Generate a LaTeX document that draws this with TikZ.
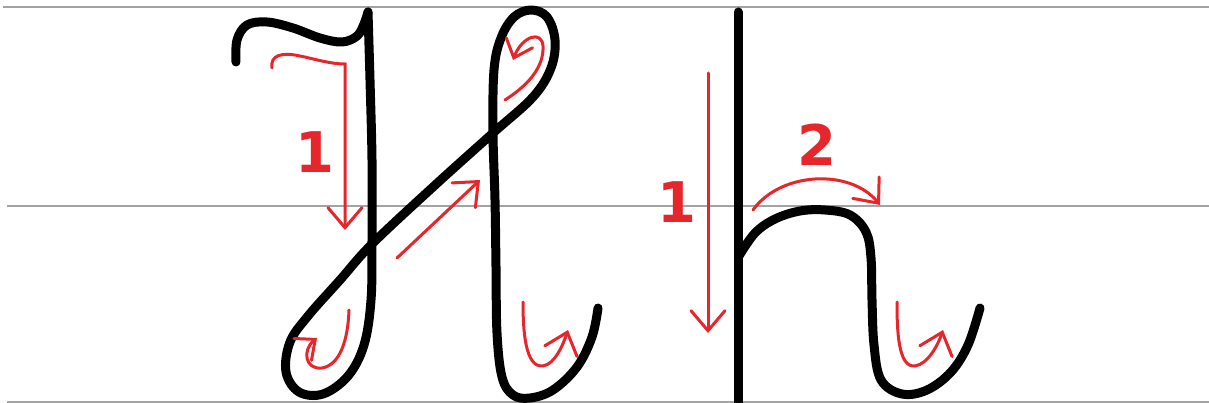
\documentclass[tikz,border=0pt]{standalone}
\usepackage{fontspec}
\usepackage{tikz}
\usetikzlibrary{arrows.meta}
\newfontfamily\digitfont{DejaVu Sans}
\definecolor{guideGray}{HTML}{A3A3A3}
\definecolor{inkBlack}{HTML}{000000}
\definecolor{strokeRed}{HTML}{E5262B}

\begin{document}
\begin{tikzpicture}[x=1pt,y=-1pt,
  guide/.style={draw=guideGray,line width=2pt},
  letter/.style={draw=inkBlack,line width=9pt,line cap=round,line join=round},
  hint/.style={draw=strokeRed,line width=3pt,line cap=round,line join=miter,
    -{Straight Barb[length=20pt,width=34pt,line cap=round]}},
  smallhint/.style={hint,-{Straight Barb[length=16pt,width=28pt,line cap=round]}},
  num/.style={text=strokeRed,inner sep=0pt,font=\digitfont\bfseries\fontsize{56}{60}\selectfont}
]
  \useasboundingbox (0,0) rectangle (1209,403);

  % guide lines
  \draw[guide] (3,7) -- (1209,7);
  \draw[guide] (7,206) -- (1209,206);
  \draw[guide] (7,402) -- (1209,402);

  % capital H
  \draw[letter] plot[smooth,tension=0.6] coordinates {(236,62) (237,40) (247,25) (267,22)
    (293,28) (320,38) (342,42) (357,36) (364,24) (368,12)};
  \draw[letter] plot[smooth,tension=0.6] coordinates {(368,12) (370,80) (372,160) (372,240)
    (371,300) (364,345) (348,376) (323,394) (299,392) (286,372) (290,342) (308,316)
    (340,280) (372,244) (433,187) (493,133) (533,97) (551,68) (555,40) (547,17) (531,10)
    (514,17) (501,38) (494,70) (493,133) (495,200) (496,267) (497,333) (502,377) (513,395)
    (530,398) (553,390) (577,367) (592,337) (598,308)};

  % small h
  \draw[letter] (738,12) -- (738,402);
  \draw[letter] plot[smooth,tension=0.6] coordinates {(739,256) (755,233) (775,219)
    (800,211) (825,210) (850,215) (866,232) (871,258) (872,300) (874,345) (881,380)
    (902,394) (927,390) (951,372) (968,345) (980,308)};

  % stroke hints for H
  \draw[hint] (272,68) .. controls (270,55) and (282,52) .. (300,56)
    .. controls (315,59) and (330,64) .. (345,64) -- (345,230);
  \node[num] (numHone) at (315,152) {1};
  \draw[hint] (397,258) -- (480,180);
  \draw[smallhint] (505,100) .. controls (530,84) and (544,66) .. (543,46)
    .. controls (542,30) and (522,36) .. (513,60);
  \draw[smallhint] (349,310) .. controls (348,340) and (340,365) .. (322,368)
    .. controls (305,370) and (302,350) .. (317,338);
  \draw[hint] (523,302) .. controls (523,330) and (525,368) .. (543,366)
    .. controls (555,364) and (563,345) .. (568,330);

  % stroke hints for h
  \draw[hint] (708,73) -- (708,333);
  \node[num] (numhone) at (677,202) {1};
  \draw[hint] (753,210) .. controls (780,172) and (850,168) .. (880,205);
  \node[num] (numhtwo) at (817,145) {2};
  \draw[hint] (897,302) .. controls (897,330) and (898,368) .. (915,366)
    .. controls (928,364) and (938,345) .. (943,330);
\end{tikzpicture}
\end{document}
